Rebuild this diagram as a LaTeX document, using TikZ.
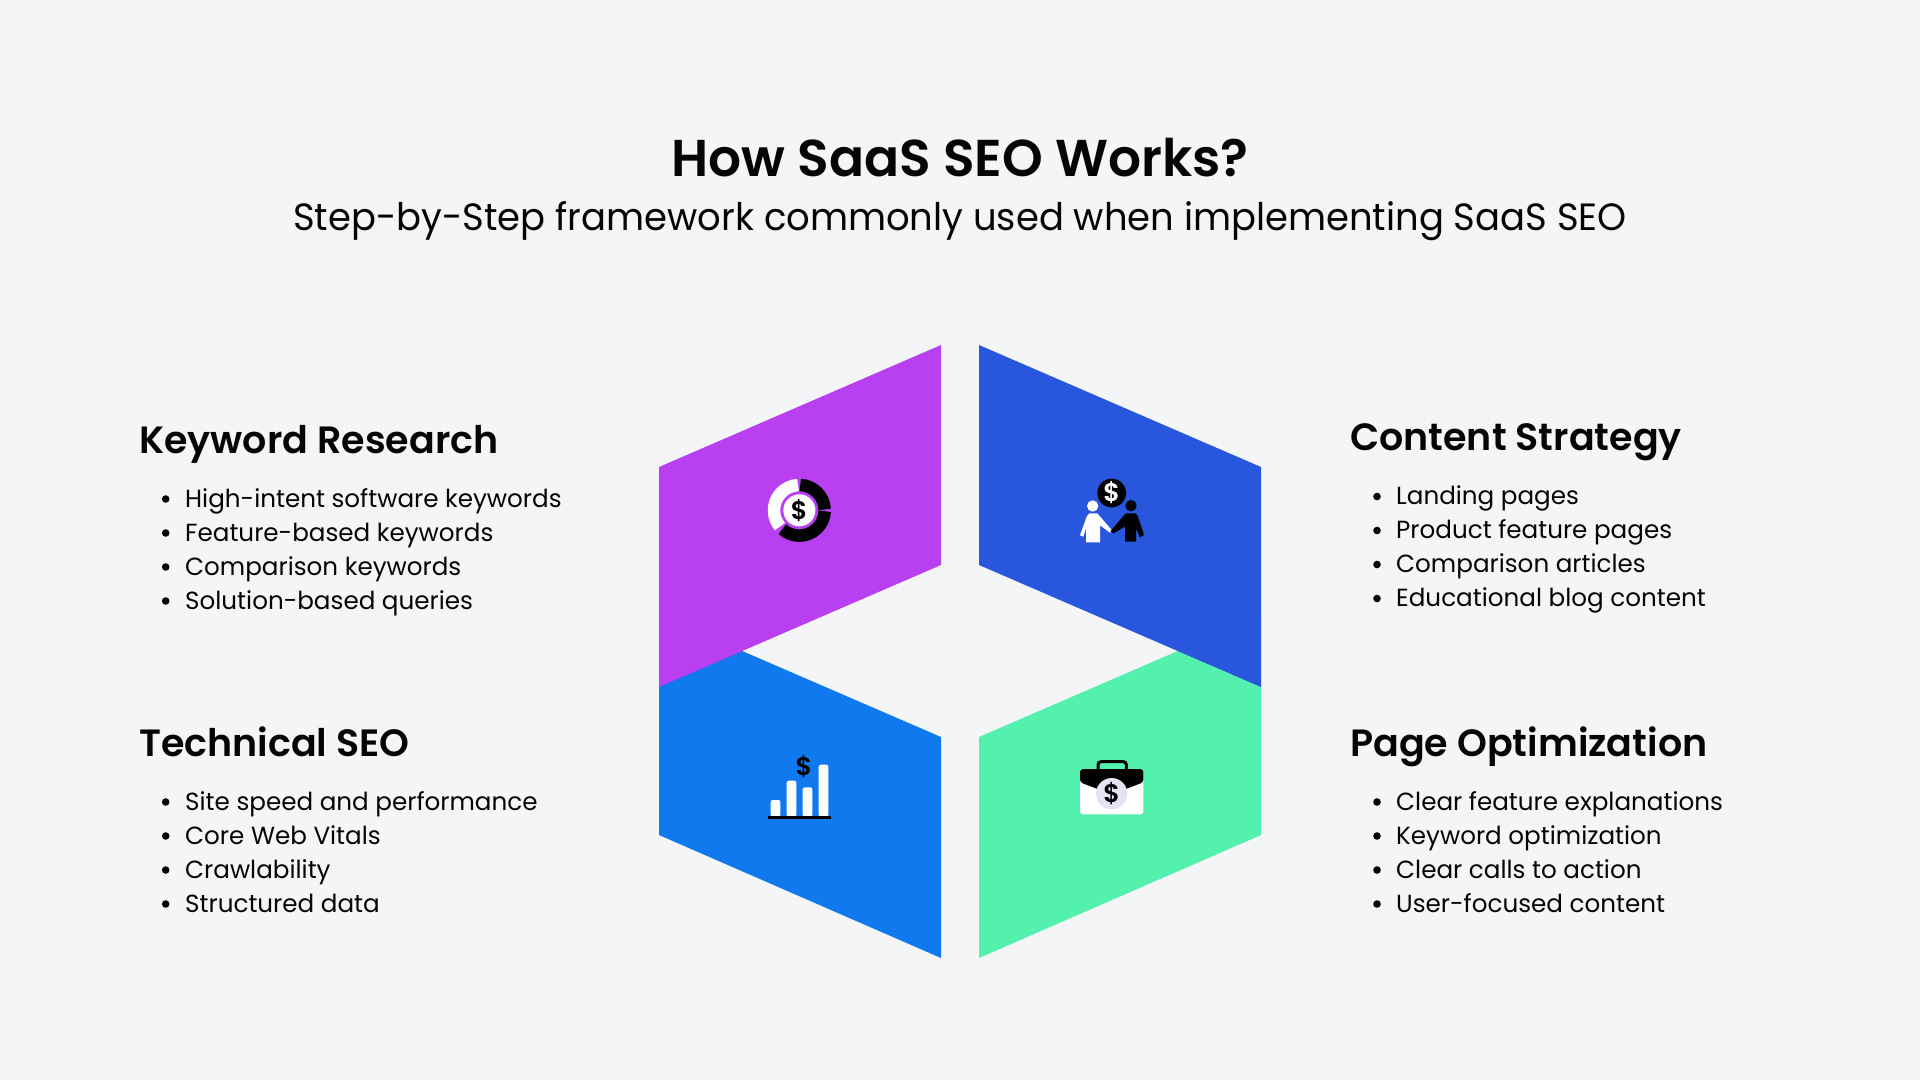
\documentclass[tikz,border=0pt]{standalone}
\usepackage{fontspec}
\setmainfont{Poppins}
\newfontfamily\headfont{Poppins SemiBold}
\newfontfamily\subfont[FakeStretch=0.972]{Poppins}
\newfontfamily\itemfont[FakeStretch=0.993]{Poppins}
\definecolor{pagebg}{HTML}{F3F5F7}
\definecolor{inkc}{HTML}{050505}
\definecolor{purplec}{HTML}{B840F0}
\definecolor{navyc}{HTML}{2856DD}
\definecolor{bluec}{HTML}{1079EE}
\definecolor{greenc}{HTML}{54F0AE}
\definecolor{coinc}{HTML}{E3E3F3}
\tikzset{
	headtext/.style={anchor=base west,inner sep=0,text=inkc,font=\headfont\fontsize{38}{44}\selectfont},
	itemtext/.style={anchor=base west,inner sep=0,text=inkc,font=\itemfont\fontsize{24.8}{30}\selectfont},
	dotmark/.style={circle,fill=inkc,inner sep=0,minimum size=7.6},
	dollar/.style={inner sep=0,font=\headfont\fontsize{25.5}{30}\selectfont},
}
\begin{document}
\begin{tikzpicture}[x=1pt,y=-1pt]
	\fill[pagebg] (0,0) rectangle (1920,1080);
	\useasboundingbox (0,0) rectangle (1920,1080);
	% titles
	\node (title) [inner sep=0,text=inkc,font=\headfont\fontsize{51.8}{60}\selectfont] at (960,158) {How SaaS SEO Works?};
	\node (subtitle) [inner sep=0,text=inkc,font=\subfont\fontsize{38}{48}\selectfont] at (960,221) {Step-by-Step framework commonly used when implementing SaaS SEO};
	% the four panels
	\fill[bluec] (659,615) -- (941,737) -- (941,958) -- (659,835) --cycle;
	\fill[greenc] (979,737) -- (1261,615) -- (1261,835) -- (979,958) --cycle;
	\fill[purplec] (941,345) -- (659,467) -- (659,687) -- (941,565) --cycle;
	\fill[navyc] (979,345) -- (1261,467) -- (1261,687) -- (979,565) --cycle;
	% left column
	\node (kwhead) [headtext] at (139,453) {Keyword Research};
	\foreach \i/\t in {0/High-intent software keywords,1/Feature-based keywords,2/Comparison keywords,3/Solution-based queries}{
		\node (kwdot\i) [dotmark] at (165.7,{499+34*\i}) {};
		\node (kw\i) [itemtext] at (185,{507+34*\i}) {\t};
	}
	\node (techhead) [headtext] at (139,756) {Technical SEO};
	\foreach \i/\t in {0/Site speed and performance,1/Core Web Vitals,2/Crawlability,3/Structured data}{
		\node (techdot\i) [dotmark] at (165.7,{802+34*\i}) {};
		\node (tech\i) [itemtext] at (185,{810+34*\i}) {\t};
	}
	% right column
	\node (conthead) [headtext] at (1350,450) {Content Strategy};
	\foreach \i/\t in {0/Landing pages,1/Product feature pages,2/Comparison articles,3/Educational blog content}{
		\node (contdot\i) [dotmark] at (1377,{496.5+34*\i}) {};
		\node (cont\i) [itemtext] at (1396,{504.5+34*\i}) {\t};
	}
	\node (pagehead) [headtext] at (1350,756) {Page Optimization};
	\foreach \i/\t in {0/Clear feature explanations,1/Keyword optimization,2/Clear calls to action,3/User-focused content}{
		\node (pagedot\i) [dotmark] at (1377,{802+34*\i}) {};
		\node (page\i) [itemtext] at (1396,{810+34*\i}) {\t};
	}
	% donut icon
	\begin{scope}[shift={(740,450)},x=0.3333pt,y=-0.3333pt]
		\draw[white,line width=12.5pt] (178,181) ++(-93:76) arc (-93:-220:76);
		\draw[black,line width=12.5pt] (178,181) ++(-88:76) arc (-88:-2:76);
		\draw[black,line width=12.5pt] (178,181) ++(2:76) arc (2:132:76);
		\fill[white] (178,181) circle (48);
		\node (icondonut) [dollar,text=black] at (178,182) {\$};
	\end{scope}
	% handshake icon
	\begin{scope}[shift={(1060,460)},x=0.3333pt,y=-0.3333pt]
		\fill[black] (155,99) circle (43);
		\node (iconshake) [dollar,text=white] at (155,99) {\$};
		\fill[white] (98,138) circle (17);
		\fill[white] (88,160) -- (112,160) -- (155,210) -- (150,218) -- (120,196) -- (120,247) -- (78,247) -- (78,205) -- (70,230) -- (60,226) -- (80,170) --cycle;
		\fill[black] (213,137) circle (17);
		\fill[black] (198,160) -- (225,160) -- (232,165) -- (252,225) -- (240,232) -- (228,205) -- (228,245) -- (195,245) -- (195,200) -- (160,220) -- (152,213) -- (190,168) --cycle;
	\end{scope}
	% bars icon
	\begin{scope}[shift={(750,740)},x=0.3333pt,y=-0.3333pt]
		\foreach \a/\b in {62/180,110/122,158/142,206/74}
			\fill[white,rounded corners=2pt] (\a,230) -- (\a,\b) -- (\a+29,\b) -- (\a+29,230) --cycle;
		\fill[black] (54,228) rectangle (243,237);
		\node (iconbars) [dollar,text=black] at (162,80) {\$};
	\end{scope}
	% case icon
	\begin{scope}[shift={(1060,745)},x=0.3333pt,y=-0.3333pt]
		\draw[black,line width=3pt,rounded corners=3pt] (114,75) -- (114,50) -- (199,50) -- (199,75);
		\fill[white,rounded corners=3pt] (60,72) rectangle (250,208);
		\fill[black,rounded corners=3pt] (60,112) -- (60,72) -- (250,72) -- (250,112) -- (155,148) --cycle;
		\fill[coinc] (155,146) circle (47);
		\node (iconcase) [dollar,text=black] at (155,146) {\$};
	\end{scope}
\end{tikzpicture}
\end{document}
